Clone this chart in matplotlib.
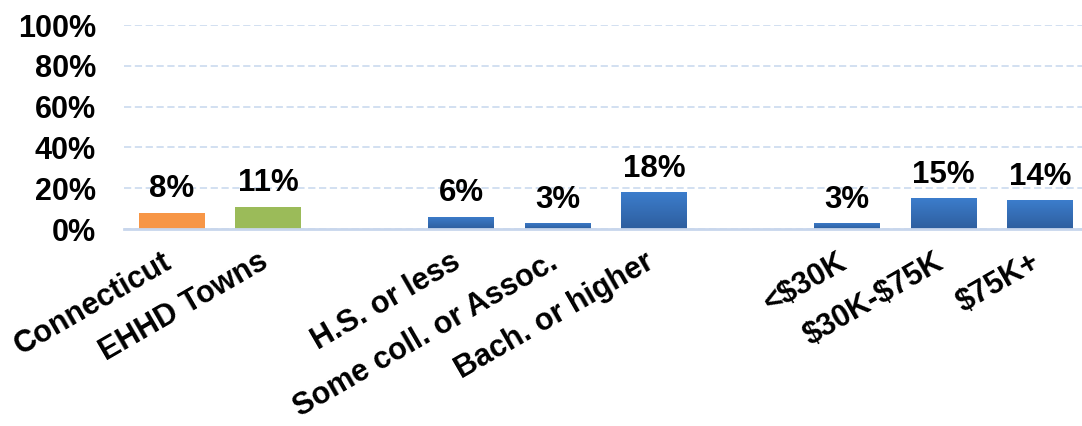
import matplotlib
matplotlib.use("Agg")
import matplotlib.pyplot as plt
import matplotlib.transforms as mtrans
from matplotlib.colors import LinearSegmentedColormap
import numpy as np

categories = ["Connecticut", "EHHD Towns", "", "H.S. or less", "Some coll. or Assoc.",
              "Bach. or higher", "", "<\\$30K", "\\$30K-\\$75K", "\\$75K+"]
values = [8, 11, None, 6, 3, 18, None, 3, 15, 14]
labels = ["8%", "11%", "", "6%", "3%", "18%", "", "3%", "15%", "14%"]
colors = ["#F79646", "#9BBB59", None, "blue", "blue", "blue", None,
          "blue", "blue", "blue"]
yticks = [0, 20, 40, 60, 80, 100]
ytick_labels = ["0%", "20%", "40%", "60%", "80%", "100%"]

blue_grad = LinearSegmentedColormap.from_list("bg", ["#2E5E9E", "#3C7DCC"])

fig = plt.figure(figsize=(10.82, 4.26), dpi=100)
ax = fig.add_axes([0.1142, 0.4624, 0.8915, 0.4789])

xs = [i for i, v in enumerate(values) if v is not None]
bars = ax.bar(xs, [values[i] for i in xs], width=0.68,
              color=[colors[i] if colors[i] != "blue" else "#3570BC" for i in xs], zorder=3)

grad = np.linspace(0, 1, 256).reshape(-1, 1)
for i, b in zip(xs, bars):
    if colors[i] == "blue":
        x0, y0 = b.get_x(), b.get_y()
        w, h = b.get_width(), b.get_height()
        im = ax.imshow(grad, cmap=blue_grad, origin="lower", aspect="auto",
                       extent=[x0, x0 + w, y0, y0 + h], zorder=3.5)
        im.set_clip_path(b)

for i in xs:
    ax.annotate(labels[i], (i, values[i]), xytext=(0, 11), textcoords="offset points",
                ha="center", va="baseline", fontsize=22.5, fontweight="bold",
                family="Liberation Sans", color="black", zorder=5)

ax.set_xlim(-0.5, 9.5)
ax.set_ylim(0, 100)
ax.set_yticks(yticks)
ax.set_yticklabels(ytick_labels, fontsize=22, fontweight="bold", family="Liberation Sans")
ax.set_xticks(range(len(categories)))
ax.set_xticklabels([])

# category labels, rotated, anchored just below each slot
offset = mtrans.ScaledTranslation(-10 / 100, -18 / 100, fig.dpi_scale_trans)
for i, cat in enumerate(categories):
    if cat:
        ax.text(i, 0, cat, transform=ax.get_xaxis_transform() + offset,
                rotation=30, ha="right", va="top", rotation_mode="anchor",
                fontsize=22, fontweight="bold", family="Liberation Sans", clip_on=False)

ax.tick_params(axis="both", length=0)
ax.tick_params(axis="y", pad=20)

for s in ["top", "right", "left"]:
    ax.spines[s].set_visible(False)
ax.spines["bottom"].set_color("#C8D6EC")
ax.spines["bottom"].set_linewidth(2)
ax.spines["bottom"].set_zorder(4)

ax.yaxis.grid(True, linestyle=(0, (4, 2)), color="#CFDDF0", linewidth=1.3, zorder=0)
ax.set_axisbelow(True)

fig.savefig("out.png", dpi=100)
